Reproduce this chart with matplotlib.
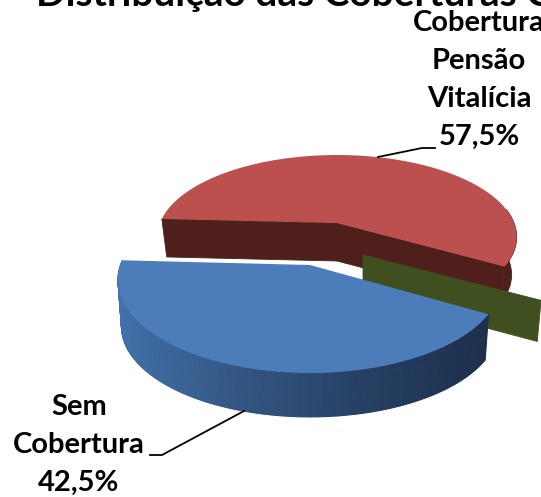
import numpy as np
import matplotlib
matplotlib.use('Agg')
import matplotlib.pyplot as plt

categories = ['Cobertura\nPensão\nVitalícia', 'Outras', 'Sem\nCobertura']
values = [57.5, 0.0, 42.5]
labels = ['57,5%', '', '42,5%']


def project(t, cx, cy, a, b, k):
    # circle seen in perspective, cx/cy is where the pie centre lands
    w = 1 - k * np.sin(t)
    return cx + a * np.cos(t) / w, cy + b * np.sin(t) / w


def arc(t0, t1, g):
    t = np.linspace(t0, t1, 120)
    return project(t, *g)


def wedge(ax, t0, t1, g, color, z):
    x, y = arc(t0, t1, g)
    ax.fill(np.r_[g[0], x], np.r_[g[1], y], color=color, lw=0, zorder=z)


def wall(ax, p0, p1, color, z):
    ax.fill([p0[0], p1[0], p1[2], p0[2]], [p0[1], p1[1], p1[3], p0[3]], color=color, lw=0.6, zorder=z)


fig = plt.figure(figsize=(5.41, 4.97), dpi=100)
ax = fig.add_axes([0, 0, 1, 1])
ax.set_xlim(0, 541)
ax.set_ylim(497, 0)
ax.axis('off')

start = np.radians(183)
cum = np.radians(np.cumsum([0] + values) / sum(values) * 360) + start
red0, red1 = cum[0], cum[1]
green = cum[2]
blue0, blue1 = cum[2], cum[3]

RED_TOP = (337, 223, 177, 79.6, 0.171)
RED_BOT = (337, 261, 172, 78, 0.171)
GREEN_TOP = (363, 255, 188, 83, 0.171)
GREEN_BOT = (363, 295, 184, 85, 0.171)
BLUE_TOP = (310, 265, 189.5, 90.6, 0.161)
BLUE_BOT = (310, 312, 186, 88, 0.161)

# red slice
dark_red = '#4f1f1c'
x, y = arc(red1 - np.radians(40), red1, RED_TOP)
xb, yb = arc(red1 - np.radians(40), red1, RED_BOT)
ax.fill(np.r_[x, xb[::-1]], np.r_[y, yb[::-1]], color=dark_red, lw=0.6, zorder=1)
for t in [red0, red1]:
    a = project(t, *RED_TOP)
    b = project(t, *RED_BOT)
    wall(ax, (RED_TOP[0], RED_TOP[1], RED_BOT[0], RED_BOT[1]), (a[0], a[1], b[0], b[1]), dark_red, 2)
wedge(ax, red0, red1, RED_TOP, '#bb504e', 3)

# green slice has no area, only its cut face shows
a = project(green, *GREEN_TOP)
b = project(green, *GREEN_BOT)
wall(ax, (GREEN_TOP[0], GREEN_TOP[1], GREEN_BOT[0], GREEN_BOT[1]), (a[0], a[1], b[0], b[1]), '#3f4f20', 4)

# blue slice, side shaded strip by strip
ts = np.linspace(blue0, blue1, 160)
xt, yt = project(ts, *BLUE_TOP)
xb, yb = project(ts, *BLUE_BOT)
c0 = np.array([0x1d, 0x31, 0x4e]) / 255
c1 = np.array([0x42, 0x70, 0xa8]) / 255
for i in range(len(ts) - 1):
    f = (xt[0] - xt[i]) / (xt[0] - xt.min())
    f = min(max(f, 0), 1) ** 1.3
    ax.fill([xt[i], xt[i + 1], xb[i + 1], xb[i]], [yt[i], yt[i + 1], yb[i + 1], yb[i]],
            color=c0 + (c1 - c0) * f, lw=0.8, zorder=5)
wedge(ax, blue0, blue1, BLUE_TOP, '#4c7dba', 6)

# text
font = {'family': 'Lato', 'weight': 'bold', 'color': 'black'}
ax.text(36, 6, 'Distribuição das Coberturas C', fontsize=28, va='baseline', ha='left', **font)
ax.text(479, 80, categories[0] + '\n' + labels[0], fontsize=21, ha='center', va='center', linespacing=1.58, zorder=8, **font)
ax.text(79, 445, categories[2] + '\n' + labels[2], fontsize=21, ha='center', va='center', linespacing=1.58, zorder=8, **font)

# leader lines
ax.plot([378, 422, 435], [157, 148, 148], color='black', lw=1.3, zorder=7)
ax.plot([244, 162, 150], [411, 455, 455], color='black', lw=1.3, zorder=7)

fig.savefig('out.png', dpi=100)
